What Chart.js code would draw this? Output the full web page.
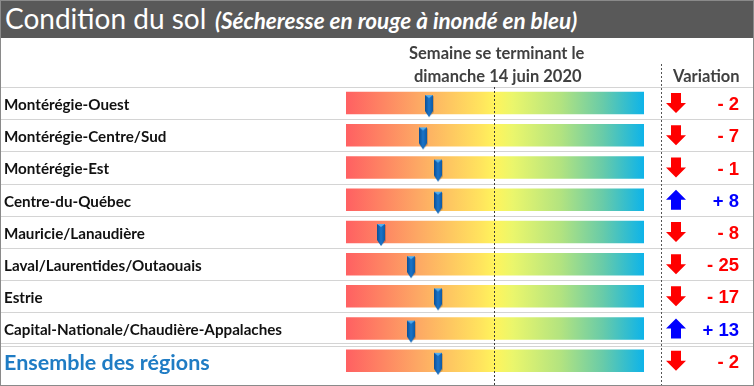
<!DOCTYPE html>
<html>
<head>
<meta charset="utf-8">
<script src="https://cdn.jsdelivr.net/npm/chart.js@4.4.1/dist/chart.umd.min.js"></script>
<style>
  body { margin: 0; background: #fff; }
  #wrap { position: relative; width: 754px; height: 386px; overflow: hidden; font-family: Lato, sans-serif; }
  #titre { position: absolute; left: 0; top: 0; width: 754px; height: 38px; background: #595959; color: #fff; white-space: nowrap; z-index: 2; }
  #titre .t1 { position: absolute; left: 5px; top: 1px; font-size: 28px; }
  #titre .t2 { position: absolute; left: 215px; top: 7px; font-size: 22.5px; font-style: italic; font-weight: bold; }
  .entete { position: absolute; font-size: 16.5px; font-weight: bold; color: #404040; white-space: nowrap; z-index: 2; }
  #cadre { position: absolute; left: 0; top: 0; width: 752px; height: 384px; border: 1px solid #8a8a8a; pointer-events: none; z-index: 3; }
  canvas { position: absolute; left: 0; top: 0; }
</style>
</head>
<body>
<div id="wrap">
  <div id="titre"><span class="t1">Condition du sol</span><span class="t2">(Sécheresse en rouge à inondé en bleu)</span></div>
  <div class="entete" style="left:409px; top:43px;">Semaine se terminant le</div>
  <div class="entete" style="left:414px; top:66px;">dimanche 14 juin 2020</div>
  <div class="entete" style="left:673px; top:66px;">Variation</div>
  <canvas id="sol" width="754" height="386"></canvas>
  <div id="cadre"></div>
</div>
<script>
const regions = [
  "Montérégie-Ouest",
  "Montérégie-Centre/Sud",
  "Montérégie-Est",
  "Centre-du-Québec",
  "Mauricie/Lanaudière",
  "Laval/Laurentides/Outaouais",
  "Estrie",
  "Capital-Nationale/Chaudière-Appalaches",
  "Ensemble des régions",
];
// position du curseur sur l'échelle 0 (sec) à 100 (inondé)
const condition = [28, 26, 31, 31, 12, 22, 31, 22, 31];
const variation = [-2, -7, -1, 8, -8, -25, -17, 13, -2];
const echelle = [0, 100];

const $ = (sel) => document.querySelector(sel);
const police = "Lato, sans-serif";

// curseur bleu
function makePin() {
  const c = document.createElement("canvas");
  c.width = 12;
  c.height = 30;
  const g = c.getContext("2d");
  const l = 2, r = 10, top = 7, bas = 23, pointe = 29;
  g.fillStyle = "rgba(0,0,0,0.18)";
  g.beginPath();
  g.moveTo(l + 1, top + 1); g.lineTo(r + 1, top + 1); g.lineTo(r + 1, bas + 1);
  g.lineTo(6.5, pointe); g.lineTo(l + 1, bas + 1); g.closePath(); g.fill();
  const grad = g.createLinearGradient(l, 0, r, 0);
  grad.addColorStop(0, "#0b4f96");
  grad.addColorStop(0.5, "#1b74c8");
  grad.addColorStop(1, "#0f5aa6");
  g.fillStyle = grad;
  g.beginPath();
  g.moveTo(l, top); g.lineTo(r, top); g.lineTo(r, bas);
  g.lineTo(6, pointe); g.lineTo(l, bas); g.closePath(); g.fill();
  g.fillStyle = "#52aef0";
  g.beginPath();
  g.moveTo(l, top); g.lineTo(r, top); g.lineTo(6, top + 3); g.closePath(); g.fill();
  return c;
}

function degrade(ctx) {
  const area = ctx.chart.chartArea;
  if (!area) return "#fda";
  const g = ctx.chart.ctx.createLinearGradient(area.left, 0, area.right, 0);
  g.addColorStop(0, "#ff5f62");
  g.addColorStop(0.25, "#fdaa64");
  g.addColorStop(0.45, "#ffe35e");
  g.addColorStop(0.5, "#fff45c");
  g.addColorStop(0.56, "#eaf66c");
  g.addColorStop(0.72, "#b2e380");
  g.addColorStop(0.86, "#68cba9");
  g.addColorStop(1, "#0bb3eb");
  return g;
}

const lignes = {
  id: "lignes",
  beforeDatasetsDraw(chart) {
    const { ctx, scales } = chart;
    const y = scales.y;
    ctx.save();
    ctx.strokeStyle = "#d4d4d4";
    ctx.lineWidth = 1;
    for (let i = 0; i < regions.length; i++) {
      const yy = Math.round(y.getPixelForValue(i) - (y.getPixelForValue(1) - y.getPixelForValue(0)) / 2) + 0.5;
      ctx.beginPath();
      if (i === regions.length - 1) {
        ctx.moveTo(0, yy - 2); ctx.lineTo(754, yy - 2);
        ctx.moveTo(0, yy + 1); ctx.lineTo(754, yy + 1);
      } else {
        ctx.moveTo(0, yy); ctx.lineTo(754, yy);
      }
      ctx.stroke();
    }
    ctx.restore();
  },
  afterDatasetsDraw(chart) {
    const { ctx, chartArea, scales } = chart;
    const x = scales.x, y = scales.y;
    ctx.save();
    ctx.setLineDash([2, 2]);
    ctx.lineWidth = 1;
    ctx.strokeStyle = "#3a3a3a";
    const mid = Math.round(x.getPixelForValue((echelle[0] + echelle[1]) / 2)) - 0.5;
    ctx.beginPath(); ctx.moveTo(mid, chartArea.top); ctx.lineTo(mid, 386); ctx.stroke();
    ctx.strokeStyle = "#555";
    ctx.beginPath(); ctx.moveTo(661.5, 64); ctx.lineTo(661.5, 386); ctx.stroke();
    ctx.setLineDash([]);

    // colonne variation
    variation.forEach((v, i) => {
      const cy = y.getPixelForValue(i);
      const col = v < 0 ? "#ff0000" : "#0000ff";
      const ax = 676;
      ctx.fillStyle = col;
      ctx.beginPath();
      if (v < 0) {
        ctx.moveTo(ax - 5, cy - 10); ctx.lineTo(ax + 5, cy - 10); ctx.lineTo(ax + 5, cy);
        ctx.lineTo(ax + 10, cy); ctx.lineTo(ax, cy + 10); ctx.lineTo(ax - 10, cy);
        ctx.lineTo(ax - 5, cy);
      } else {
        ctx.moveTo(ax - 5, cy + 10); ctx.lineTo(ax + 5, cy + 10); ctx.lineTo(ax + 5, cy);
        ctx.lineTo(ax + 10, cy); ctx.lineTo(ax, cy - 10); ctx.lineTo(ax - 10, cy);
        ctx.lineTo(ax - 5, cy);
      }
      ctx.closePath();
      ctx.fill();
      ctx.font = "bold 18.5px 'Liberation Sans', Arial, sans-serif";
      ctx.textAlign = "right";
      ctx.textBaseline = "middle";
      const txt = (v < 0 ? "- " : "+ ") + Math.abs(v);
      ctx.fillText(txt, 739, cy + 2);
    });
    ctx.restore();
  },
};

new Chart($("#sol"), {
  type: "bar",
  data: {
    labels: regions,
    datasets: [
      {
        type: "line",
        data: condition.map((v, i) => ({ x: v, y: regions[i] })),
        showLine: false,
        pointStyle: makePin(),
        pointRadius: 6,
        pointHoverRadius: 6,
        order: 0,
      },
      {
        data: regions.map(() => echelle),
        backgroundColor: degrade,
        borderColor: "rgba(255,255,255,0.5)",
        borderWidth: 1,
        borderSkipped: false,
        barPercentage: 0.76,
        categoryPercentage: 1,
        order: 1,
      },
    ],
  },
  options: {
    indexAxis: "y",
    responsive: false,
    animation: false,
    layout: { padding: { left: 4, right: 109, top: 87, bottom: 0 } },
    plugins: { legend: { display: false }, tooltip: { enabled: false } },
    scales: {
      x: { type: "linear", min: echelle[0], max: echelle[1], display: false },
      y: {
        type: "category",
        grid: { display: false },
        border: { display: false },
        afterFit: (s) => { s.width = 341; },
        ticks: {
          crossAlign: "far",
          padding: 0,
          labelOffset: 2,
          color: (c) => (c.index === regions.length - 1 ? "#1f7cc4" : "#111"),
          font: (c) =>
            c.index === regions.length - 1
              ? { family: police, size: 21.5, weight: "bold" }
              : { family: police, size: 15.2, weight: "bold" },
        },
      },
    },
  },
  plugins: [lignes],
});
</script>
</body>
</html>
